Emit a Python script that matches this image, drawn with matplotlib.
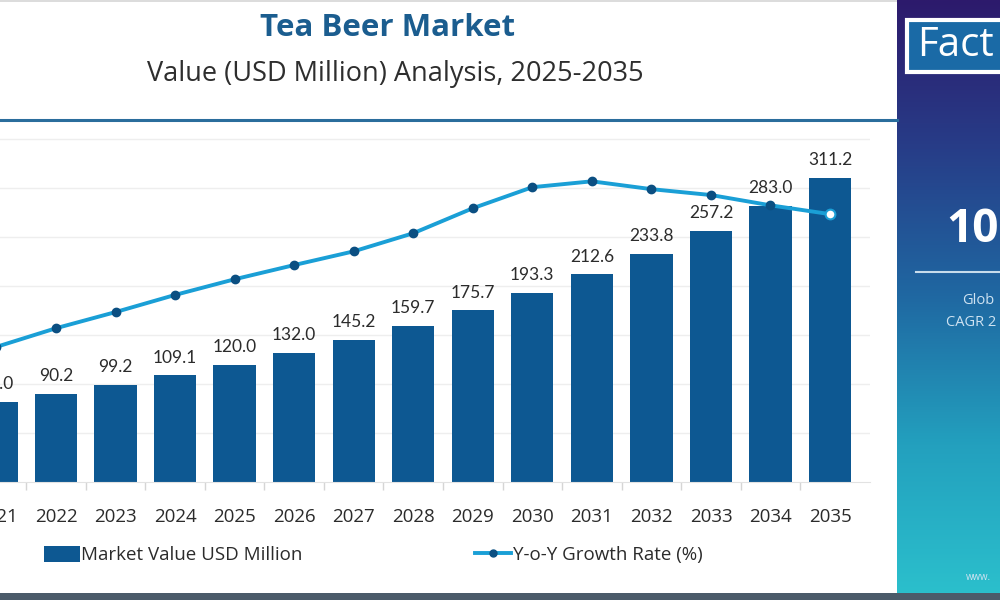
import numpy as np
import matplotlib
matplotlib.use("Agg")
import matplotlib.pyplot as plt
from matplotlib.patches import Rectangle, Patch
from matplotlib.lines import Line2D
from matplotlib.colors import LinearSegmentedColormap

plt.rcParams['font.family'] = ['Open Sans', 'DejaVu Sans']

years = ['2021', '2022', '2023', '2024', '2025', '2026', '2027', '2028',
         '2029', '2030', '2031', '2032', '2033', '2034', '2035']
market_value = [82.0, 90.2, 99.2, 109.1, 120.0, 132.0, 145.2, 159.7,
                175.7, 193.3, 212.6, 233.8, 257.2, 283.0, 311.2]
growth_rate = [2.76, 3.14, 3.47, 3.82, 4.14, 4.43, 4.71, 5.08,
               5.59, 6.02, 6.14, 5.98, 5.86, 5.65, 5.47]

title = "Tea Beer Market"
subtitle = "Value (USD Million) Analysis, 2025-2035"
legend_bar = "Market Value USD Million"
legend_line = "Y-o-Y Growth Rate (%)"
panel_logo = "Fact"
panel_value = "10"
panel_line1 = "Glob"
panel_line2 = "CAGR 2"
panel_web = "www."

BAR = '#0d5892'
LINE = '#1a9fd6'
MARK = '#0b4f82'
TXT = '#2b2b2b'

fig = plt.figure(figsize=(10, 6), dpi=100)
W, H = 1000, 600

# background / decoration layer
bg = fig.add_axes([0, 0, 1, 1], zorder=0)
bg.set_xlim(0, W)
bg.set_ylim(H, 0)
bg.axis('off')

# right gradient panel
cmap = LinearSegmentedColormap.from_list('p', ['#2d1a6c', '#273d88', '#1f68a2', '#23a0be', '#2bbfcc'])
grad = np.linspace(0, 1, 256).reshape(-1, 1)
bg.imshow(grad, cmap=cmap, extent=(897, 1000, 593, 0), aspect='auto', zorder=1)
# Fact box
bg.add_patch(Rectangle((907, 20), 110, 52, facecolor='#1a6aa6', edgecolor='white', lw=3, zorder=2))
bg.text(917, 46, panel_logo, color='white', fontsize=29, va='center', ha='left', zorder=3)
bg.text(946, 230, panel_value, color='white', fontsize=33, fontweight='bold', va='center', ha='left', zorder=3)
bg.plot([916, 1000], [272, 272], color='#c8dcec', lw=1.5, zorder=3)
bg.text(962, 301, panel_line1, color='#cfe3f2', fontsize=10.5, va='center', ha='left', zorder=3)
bg.text(946, 323, panel_line2, color='#cfe3f2', fontsize=10.5, va='center', ha='left', zorder=3)
bg.text(966, 578, panel_web, color='#cfe3f2', fontsize=7, va='center', ha='left', zorder=3)

# frame strips
bg.add_patch(Rectangle((0, 593), 1000, 7, facecolor='#4b5b6a', edgecolor='none', zorder=2))
bg.add_patch(Rectangle((0, 0), 897, 2, facecolor='#dcdcdc', edgecolor='none', zorder=2))
bg.plot([0, 897], [119.5, 119.5], color='#2a6d9c', lw=2.2, zorder=2)

# header
bg.text(388, 28, title, color='#1b5d8f', fontsize=22.5, fontweight='bold', ha='center', va='center')
bg.text(395, 74, subtitle, color='#2e2e2e', fontsize=19.5, ha='center', va='center')

# chart axes: pixel x from -30 to 870, y from 125 to 482
x0_px, x1_px = -30, 870
ytop_px, ybot_px = 125, 482
ax = fig.add_axes([x0_px / W, 1 - ybot_px / H, (x1_px - x0_px) / W, (ybot_px - ytop_px) / H], zorder=2)
ax.patch.set_alpha(0)
step = 59.54
c0 = -3.54
ax.set_xlim((x0_px - c0) / step, (x1_px - c0) / step)
ymax = 365.5
ax.set_ylim(0, ymax)

x = np.arange(len(years))
bars = ax.bar(x, market_value, width=0.71, color=BAR, zorder=2)
anns = ax.bar_label(bars, labels=[f"{v:.1f}" for v in market_value], padding=7,
                    fontsize=12.5, color=TXT, family=['Lato', 'DejaVu Sans'])
for a in anns:
    a.set_annotation_clip(False)

gmax = 7.29
ax.set_yticks(np.arange(1, 8) * ymax / gmax)
ax.yaxis.grid(True, color='#eeeeee', lw=1, zorder=0)
ax.set_axisbelow(True)
ax.tick_params(axis='y', left=False, labelleft=False)
ax.set_xticks(x)
ax.set_xticklabels(years, fontsize=13.5, color=TXT)
ax.tick_params(axis='x', length=0, pad=19)
ax.set_xticks(x[:-1] + 0.5, minor=True)
ax.tick_params(axis='x', which='minor', length=6, color='#d5d5d5', width=1)
for s in ['top', 'right', 'left']:
    ax.spines[s].set_visible(False)
ax.spines['bottom'].set_color('#e2e2e2')

ax2 = ax.twinx()
ax2.set_ylim(0, gmax)
ax2.axis('off')
ax2.plot(x, growth_rate, color=LINE, lw=2.8, marker='o', ms=6,
         mfc=MARK, mec=MARK, zorder=3, clip_on=False)
ax2.plot(x[-1:], growth_rate[-1:], ls='none', marker='o', ms=7, mfc='white', mec=LINE, mew=1.5, zorder=4)

handles = [Patch(facecolor=BAR, edgecolor='none'),
           Line2D([0], [0], color=LINE, lw=2.8, marker='o', ms=5, mfc=MARK, mec=MARK)]
fig.legend(handles, [legend_bar, legend_line], loc='center left',
           bbox_to_anchor=(27 / W, 1 - 555 / H), ncol=2, frameon=False,
           fontsize=13.5, handlelength=1.9, handleheight=1.0, handletextpad=0.1,
           columnspacing=9.2, labelcolor=TXT)

fig.savefig('out.png', dpi=100)
